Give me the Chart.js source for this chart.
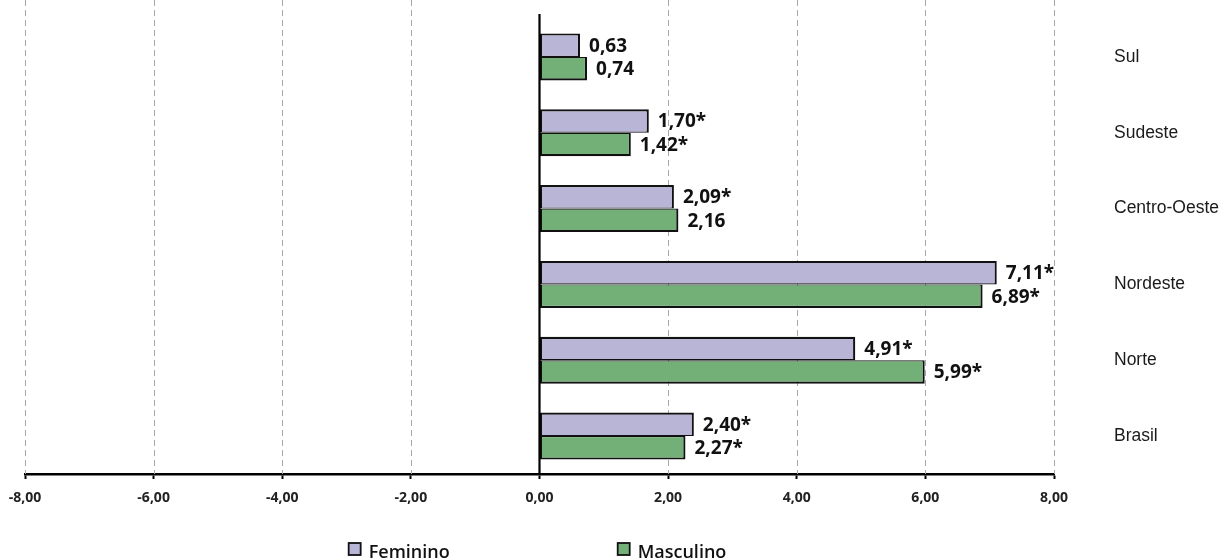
<!DOCTYPE html>
<html>
<head>
<meta charset="utf-8">
<script src="https://cdn.jsdelivr.net/npm/chart.js@4.4.1/dist/chart.umd.min.js"></script>
<style>
  html, body { margin: 0; padding: 0; background: #fff; }
  #wrap { width: 1226px; height: 560px; position: relative; }
</style>
</head>
<body>
<div id="wrap"><canvas id="grafico" width="1226" height="560"></canvas></div>
<script>
// Regiões (de cima para baixo) e valores por sexo
const regioes = ['Sul', 'Sudeste', 'Centro-Oeste', 'Nordeste', 'Norte', 'Brasil'];
const feminino = [0.63, 1.70, 2.09, 7.11, 4.91, 2.40];
const masculino = [0.74, 1.42, 2.16, 6.89, 5.99, 2.27];
// Diferença estatisticamente significativa (marcada com *)
const femininoSignif = [false, true, true, true, true, true];
const masculinoSignif = [false, true, false, true, true, true];
const ticksX = [-8, -6, -4, -2, 0, 2, 4, 6, 8];

const COR_FEM = '#b9b5d7';
const COR_MASC = '#72b078';
const COR_BORDA = '#111111';

const fmt = v => v.toFixed(2).replace('.', ',');

// Linhas de grade tracejadas e eixo vertical no zero
const gradePlugin = {
  id: 'grade',
  beforeDatasetsDraw(chart) {
    const { ctx, chartArea, scales: { x } } = chart;
    ctx.save();
    ctx.strokeStyle = '#a8a8a8';
    ctx.lineWidth = 1;
    ctx.setLineDash([6, 4]);
    x.ticks.forEach(t => {
      if (t.value === 0) return;
      const px = Math.round(x.getPixelForValue(t.value)) + 0.5;
      ctx.beginPath();
      ctx.moveTo(px, 0);
      ctx.lineTo(px, chartArea.bottom);
      ctx.stroke();
    });
    ctx.restore();
  },
  afterDatasetsDraw(chart) {
    const { ctx, chartArea, scales: { x } } = chart;
    const px = x.getPixelForValue(0);
    ctx.save();
    ctx.strokeStyle = '#000';
    ctx.lineWidth = 2.2;
    ctx.beginPath();
    ctx.moveTo(px, chartArea.top - 5);
    ctx.lineTo(px, chartArea.bottom);
    ctx.stroke();
    ctx.restore();
  }
};

// Rótulos de valor ao fim de cada barra
const rotulosPlugin = {
  id: 'rotulos',
  afterDatasetsDraw(chart) {
    const { ctx } = chart;
    ctx.save();
    ctx.font = 'bold 19px "Open Sans", sans-serif';
    ctx.fillStyle = '#111';
    ctx.textAlign = 'left';
    ctx.textBaseline = 'middle';
    chart.data.datasets.forEach((ds, i) => {
      const meta = chart.getDatasetMeta(i);
      meta.data.forEach((el, j) => {
        const txt = fmt(ds.data[j]) + (ds.signif[j] ? '*' : '');
        ctx.fillText(txt, el.x + 9, el.y + 1);
      });
    });
    ctx.restore();
  }
};

// Legenda inferior com itens espaçados
const legendaPlugin = {
  id: 'legenda',
  afterDraw(chart) {
    const { ctx, chartArea } = chart;
    ctx.save();
    ctx.font = '600 18px "Open Sans", sans-serif';
    const box = 12, gapTxt = 8, espaco = 168;
    const itens = chart.data.datasets.map(ds => ({
      label: ds.label, cor: ds.backgroundColor, w: ctx.measureText(ds.label).width
    }));
    const total = itens.reduce((s, it) => s + box + gapTxt + it.w, 0) + espaco * (itens.length - 1);
    let cx = (chartArea.left + chartArea.right) / 2 - total / 2 - 2;
    const yBox = 543, yTxt = 558;
    itens.forEach(it => {
      ctx.fillStyle = it.cor;
      ctx.fillRect(cx, yBox, box, box);
      ctx.strokeStyle = '#111';
      ctx.lineWidth = 1.8;
      ctx.strokeRect(cx, yBox, box, box);
      ctx.fillStyle = '#111';
      ctx.textAlign = 'left';
      ctx.textBaseline = 'alphabetic';
      ctx.fillText(it.label, cx + box + gapTxt, yTxt);
      cx += box + gapTxt + it.w + espaco;
    });
    ctx.restore();
  }
};

new Chart(document.getElementById('grafico'), {
  type: 'bar',
  data: {
    labels: regioes,
    datasets: [
      {
        label: 'Feminino',
        data: feminino,
        signif: femininoSignif,
        backgroundColor: COR_FEM,
        borderColor: COR_BORDA,
        borderWidth: { top: 2.2, right: 2.2, bottom: 1.2, left: 2 },
        borderSkipped: false
      },
      {
        label: 'Masculino',
        data: masculino,
        signif: masculinoSignif,
        backgroundColor: COR_MASC,
        borderColor: COR_BORDA,
        borderWidth: { top: 1.2, right: 2.2, bottom: 2.2, left: 2 },
        borderSkipped: false
      }
    ]
  },
  options: {
    indexAxis: 'y',
    responsive: false,
    animation: false,
    devicePixelRatio: 1,
    categoryPercentage: 0.62,
    barPercentage: 1.0,
    layout: { padding: { top: 19, left: 25, right: 0, bottom: 36 } },
    plugins: {
      legend: { display: false },
      tooltip: { enabled: false }
    },
    scales: {
      x: {
        type: 'linear',
        min: -8,
        max: 8,
        afterBuildTicks(scale) { scale.ticks = ticksX.map(v => ({ value: v })); },
        afterFit(scale) {
          scale.height = 50;
          scale.paddingLeft = 0;
          scale.paddingRight = 0;
        },
        grid: {
          drawOnChartArea: false,
          drawTicks: true,
          tickLength: 5,
          tickColor: '#000',
          tickWidth: 2
        },
        border: { display: true, color: '#000', width: 2.5 },
        ticks: {
          padding: 11,
          color: '#222',
          font: { family: '"Open Sans", sans-serif', size: 14, weight: 'bold' },
          callback: v => fmt(v),
          maxRotation: 0,
          autoSkip: false
        }
      },
      y: {
        position: 'right',
        afterFit(scale) {
          scale.width = 172;
          scale.paddingTop = 0;
          scale.paddingBottom = 0;
        },
        grid: { display: false, drawTicks: false },
        border: { display: false },
        ticks: {
          crossAlign: 'near',
          padding: 60,
          color: '#1a1a1a',
          font: { family: '"Liberation Sans", Arial, sans-serif', size: 17.5 }
        }
      }
    }
  },
  plugins: [gradePlugin, rotulosPlugin, legendaPlugin]
});
</script>
</body>
</html>
